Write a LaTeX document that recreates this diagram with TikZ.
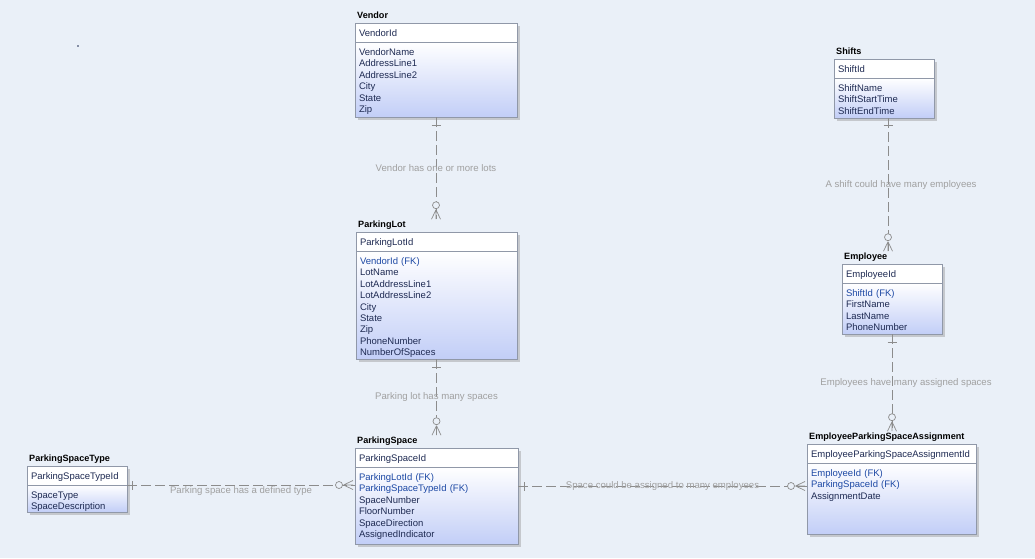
\documentclass[tikz,border=0pt]{standalone}
\usepackage{fontspec}
\setmainfont{Liberation Sans}
\usetikzlibrary{positioning,calc,shadows}

\definecolor{bgblue}{HTML}{EAF0F8}
\definecolor{boxline}{HTML}{9098A8}
\definecolor{entblue}{HTML}{C2CEF7}
\definecolor{colnavy}{HTML}{1E2A52}
\definecolor{fkblue}{HTML}{1C48A4}
\definecolor{relgray}{HTML}{8C8C8C}
\definecolor{lblgray}{HTML}{A0A0A0}

\newcommand{\fkcol}[1]{\textcolor{fkblue}{#1}}

\begin{document}
\begin{tikzpicture}[
    x=1pt, y=-1pt,
    etitle/.style={font=\fontsize{9.1}{11}\selectfont\bfseries, text=black, inner sep=1pt},
    ehead/.style={anchor=north west, draw=boxline, fill=white, line width=0.6pt, outer sep=0pt,
        minimum height=19pt, inner xsep=4pt, inner ysep=0pt, text height=7pt, text depth=0pt,
        align=left, text=colnavy, font=\fontsize{9.5}{11.4}\selectfont,
        drop shadow={shadow xshift=3pt, shadow yshift=-3pt, fill=black!40, opacity=0.45}},
    ebody/.style={draw=boxline, top color=white, bottom color=entblue, line width=0.6pt, outer sep=0pt,
        inner xsep=4pt, inner ysep=0pt, text height=13.5pt,
        align=left, text=colnavy, font=\fontsize{9.5}{11.4}\selectfont,
        drop shadow={shadow xshift=3pt, shadow yshift=-3pt, fill=black!40, opacity=0.45}},
    rel/.style={draw=relgray, line width=0.7pt, dash pattern=on 10pt off 4pt},
    rellabel/.style={text=lblgray, font=\fontsize{9.6}{11}\selectfont, inner sep=1pt},
    onebar/.pic={\draw[relgray, line width=0.7pt] (-4.5,0) -- (4.5,0);},
    zeromany/.pic={
        \draw[relgray, line width=0.7pt] (0,-9.5) -- (-4.5,0) (0,-9.5) -- (0,0) (0,-9.5) -- (4.5,0);
        \draw[relgray, line width=0.7pt, fill=bgblue] (0,-14) circle (3.5);}
]

\fill[bgblue] (0,0) rectangle (1035,558);
\useasboundingbox (0,0) rectangle (1035,558);
\fill[colnavy] (78,46) circle (0.8);

% Vendor
\node[ehead, text width=154pt] (vendorId) at (355,23) {VendorId};
\node[ebody, text width=154pt, text depth=61.5pt, below=0pt of vendorId] (vendorBody)
    {VendorName\\AddressLine1\\AddressLine2\\City\\State\\Zip};
\node[etitle, above right=5pt and 1pt of vendorId.north west, anchor=base west] (vendorTitle) {Vendor};

% ParkingLot
\node[ehead, text width=153pt] (plId) at (356,232) {ParkingLotId};
\node[ebody, text width=153pt, text depth=94.5pt, below=0pt of plId] (plBody)
    {\fkcol{VendorId (FK)}\\LotName\\LotAddressLine1\\LotAddressLine2\\City\\State\\Zip\\PhoneNumber\\NumberOfSpaces};
\node[etitle, above right=5pt and 1pt of plId.north west, anchor=base west] (plTitle) {ParkingLot};

% ParkingSpace
\node[ehead, text width=155pt] (psId) at (355,448) {ParkingSpaceId};
\node[ebody, text width=155pt, text depth=63.5pt, below=0pt of psId] (psBody)
    {\fkcol{ParkingLotId (FK)}\\\fkcol{ParkingSpaceTypeId (FK)}\\SpaceNumber\\FloorNumber\\SpaceDirection\\AssignedIndicator};
\node[etitle, above right=5pt and 1pt of psId.north west, anchor=base west] (psTitle) {ParkingSpace};

% ParkingSpaceType
\node[ehead, text width=92pt] (pstId) at (27,466) {ParkingSpaceTypeId};
\node[ebody, text width=92pt, text depth=13.5pt, below=0pt of pstId] (pstBody)
    {SpaceType\\SpaceDescription};
\node[etitle, above right=5pt and 1pt of pstId.north west, anchor=base west] (pstTitle) {ParkingSpaceType};

% Shifts
\node[ehead, text width=92pt] (shiftsId) at (834,59) {ShiftId};
\node[ebody, text width=92pt, text depth=26.5pt, below=0pt of shiftsId] (shiftsBody)
    {ShiftName\\ShiftStartTime\\ShiftEndTime};
\node[etitle, above right=5pt and 1pt of shiftsId.north west, anchor=base west] (shiftsTitle) {Shifts};

% Employee
\node[ehead, text width=92pt] (empId) at (842,264) {EmployeeId};
\node[ebody, text width=92pt, text depth=37.5pt, below=0pt of empId] (empBody)
    {\fkcol{ShiftId (FK)}\\FirstName\\LastName\\PhoneNumber};
\node[etitle, above right=5pt and 1pt of empId.north west, anchor=base west] (empTitle) {Employee};

% EmployeeParkingSpaceAssignment
\node[ehead, text width=161pt] (epsaId) at (807,444) {EmployeeParkingSpaceAssignmentId};
\node[ebody, text width=161pt, text depth=57.5pt, below=0pt of epsaId] (epsaBody)
    {\fkcol{EmployeeId (FK)}\\\fkcol{ParkingSpaceId (FK)}\\AssignmentDate};
\node[etitle, above right=5pt and 1pt of epsaId.north west, anchor=base west] (epsaTitle) {EmployeeParkingSpaceAssignment};

% Relationships
\coordinate (psRel) at ($(psBody.north east)+(0,19)$);
\coordinate (shiftRel) at ($(shiftsBody.south)+(4,0)$);

\draw[rel] (vendorBody.south) -- (vendorBody.south |- plTitle.north)
    node[rellabel, midway] {Vendor has one or more lots};
\draw[rel] (plBody.south) -- (plBody.south |- psTitle.north)
    node[rellabel, midway] {Parking lot has many spaces};
\draw[rel] (pstBody.north east) -- (pstBody.north east -| psBody.west)
    node[rellabel, midway, yshift=-6pt] {Parking space has a defined type};
\draw[rel] (psRel) -- (psRel -| epsaBody.west)
    node[rellabel, midway] {Space could be assigned to many employees};
\draw[rel] (shiftRel) -- (shiftRel |- empTitle.north)
    node[rellabel, midway, xshift=13pt] {A shift could have many employees};
\draw[rel] (empBody.south) -- (empBody.south |- epsaTitle.north)
    node[rellabel, midway, xshift=14pt] {Employees have many assigned spaces};

% Cardinality marks
\pic at ($(vendorBody.south)+(0,8)$) {onebar};
\pic at (vendorBody.south |- plTitle.north) {zeromany};
\pic at ($(plBody.south)+(0,8)$) {onebar};
\pic at (plBody.south |- psTitle.north) {zeromany};
\pic[rotate=90] at ($(pstBody.north east)+(5,0)$) {onebar};
\pic[rotate=90] at ($(pstBody.north east -| psBody.west)+(-2,0)$) {zeromany};
\pic[rotate=90] at ($(psRel)+(6,0)$) {onebar};
\pic[rotate=90] at ($(psRel -| epsaBody.west)+(-2,0)$) {zeromany};
\pic at ($(shiftRel)+(0,7)$) {onebar};
\pic at (shiftRel |- empTitle.north) {zeromany};
\pic at ($(empBody.south)+(0,8)$) {onebar};
\pic at (empBody.south |- epsaTitle.north) {zeromany};

\end{tikzpicture}
\end{document}
